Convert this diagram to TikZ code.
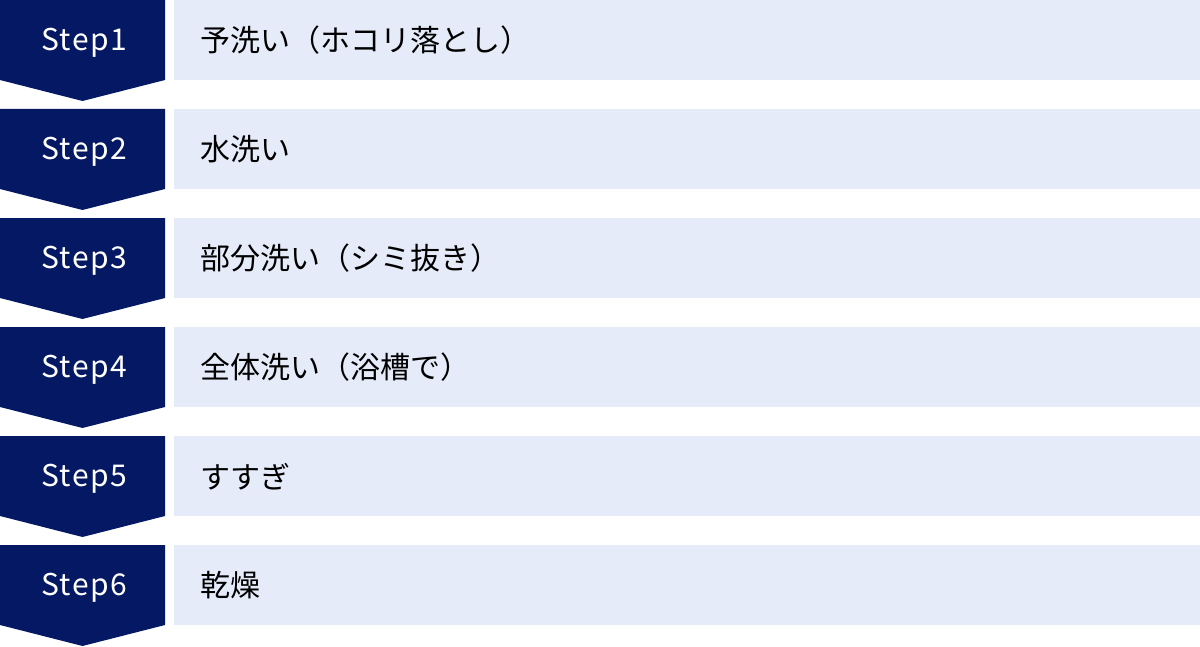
\documentclass[tikz,border=0pt]{standalone}
\usepackage{fontspec}
\setmainfont{Noto Sans CJK JP}
\newfontfamily\stepfont[LetterSpace=5]{Noto Sans CJK JP}
\definecolor{navy}{RGB}{5,24,99}
\definecolor{paleblue}{RGB}{229,235,248}
\begin{document}
\begin{tikzpicture}[x=0.5pt,y=-0.5pt,
        steplabel/.style={text=white,font=\stepfont\fontsize{15}{15}\selectfont},
        stepbox/.style={anchor=north west,fill=paleblue,minimum height=40pt,inner ysep=0pt,inner xsep=13pt,text width=487pt,align=left,font=\fontsize{15}{15}\selectfont}]
    \useasboundingbox (0,0) rectangle (1200,647);
    \begin{scope}
        \fill[navy] (0,0) -- (165,0) -- (165,80) -- (82.5,101) -- (0,80) -- cycle;
        \node[steplabel] (s1) at (84,43) {Step1};
        \node[stepbox] (b1) at (174,0) {予洗い（ホコリ落とし）};
    \end{scope}
    \begin{scope}[shift={(0,109)}]
        \fill[navy] (0,0) -- (165,0) -- (165,80) -- (82.5,101) -- (0,80) -- cycle;
        \node[steplabel] (s2) at (84,43) {Step2};
        \node[stepbox] (b2) at (174,0) {水洗い};
    \end{scope}
    \begin{scope}[shift={(0,218)}]
        \fill[navy] (0,0) -- (165,0) -- (165,80) -- (82.5,101) -- (0,80) -- cycle;
        \node[steplabel] (s3) at (84,43) {Step3};
        \node[stepbox] (b3) at (174,0) {部分洗い（シミ抜き）};
    \end{scope}
    \begin{scope}[shift={(0,327)}]
        \fill[navy] (0,0) -- (165,0) -- (165,80) -- (82.5,101) -- (0,80) -- cycle;
        \node[steplabel] (s4) at (84,43) {Step4};
        \node[stepbox] (b4) at (174,0) {全体洗い（浴槽で）};
    \end{scope}
    \begin{scope}[shift={(0,436)}]
        \fill[navy] (0,0) -- (165,0) -- (165,80) -- (82.5,101) -- (0,80) -- cycle;
        \node[steplabel] (s5) at (84,43) {Step5};
        \node[stepbox] (b5) at (174,0) {すすぎ};
    \end{scope}
    \begin{scope}[shift={(0,545)}]
        \fill[navy] (0,0) -- (165,0) -- (165,80) -- (82.5,101) -- (0,80) -- cycle;
        \node[steplabel] (s6) at (84,43) {Step6};
        \node[stepbox] (b6) at (174,0) {乾燥};
    \end{scope}
\end{tikzpicture}
\end{document}
